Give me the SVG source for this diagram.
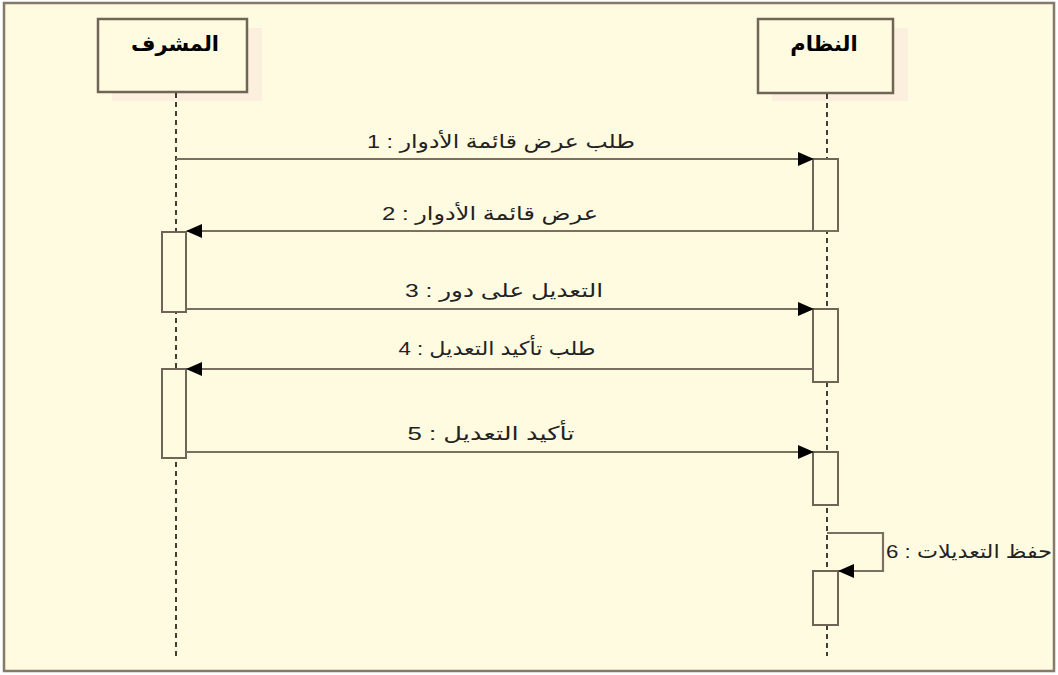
<svg xmlns="http://www.w3.org/2000/svg" width="1058" height="675" viewBox="0 0 1058 675">
<defs>
<style>
.frame{fill:#fffbe1;stroke:#85796a;stroke-width:2.5}
.shadow{fill:#fbecdc;opacity:0.8}
.head{fill:#fffbe1;stroke:#6f6455;stroke-width:2.5}
.title{font-family:"DejaVu Sans","Liberation Sans",sans-serif;font-size:21px;font-weight:bold;fill:#000;text-anchor:middle}
.life{stroke:#000;stroke-width:1.5;stroke-dasharray:5 4;fill:none}
.act{fill:#fffbe1;stroke:#6f6455;stroke-width:2}
.msg{stroke:#7a6f60;stroke-width:2.2;fill:none}
.lbl{font-family:"Liberation Sans","DejaVu Sans",sans-serif;font-size:19px;fill:#222;text-anchor:middle}
</style>
<marker id="arr" markerWidth="16" markerHeight="14" refX="15" refY="7" orient="auto" markerUnits="userSpaceOnUse">
<path d="M0,0 L16,7 L0,14 Z" fill="#000"/>
</marker>
</defs>
<rect class="frame" x="4" y="3" width="1050" height="668"/>

<g id="node-supervisor">
<rect class="shadow" x="112" y="28" width="150" height="73"/>
<rect class="head" x="98" y="19" width="149" height="73"/>
<text class="title" x="175" y="51">المشرف</text>
<line class="life" x1="176" y1="93" x2="176" y2="656"/>
<rect class="act" x="162" y="232" width="24" height="80"/>
<rect class="act" x="162" y="369" width="24" height="89"/>
</g>

<g id="node-system">
<rect class="shadow" x="772" y="28" width="136" height="73"/>
<rect class="head" x="758" y="19" width="135" height="74"/>
<text class="title" x="824" y="51">النظام</text>
<line class="life" x1="827" y1="94" x2="827" y2="656"/>
<rect class="act" x="813" y="159" width="25" height="72"/>
<rect class="act" x="813" y="309" width="25" height="73"/>
<rect class="act" x="813" y="452" width="25" height="53"/>
<rect class="act" x="813" y="571" width="25" height="54"/>
</g>

<g id="connectors">
<line class="msg" x1="176" y1="159" x2="813" y2="159" marker-end="url(#arr)"/>
<line class="msg" x1="838" y1="231" x2="187" y2="231" marker-end="url(#arr)"/>
<line class="msg" x1="186" y1="309" x2="813" y2="309" marker-end="url(#arr)"/>
<line class="msg" x1="813" y1="369" x2="187" y2="369" marker-end="url(#arr)"/>
<line class="msg" x1="186" y1="452" x2="813" y2="452" marker-end="url(#arr)"/>
<polyline class="msg" points="827,533 883,533 883,571 839,571" marker-end="url(#arr)"/>
</g>

<g id="labels">
<text class="lbl" x="501" y="148" direction="rtl" textLength="268" lengthAdjust="spacingAndGlyphs">طلب عرض قائمة الأدوار : 1</text>
<text class="lbl" x="490" y="220" direction="rtl" textLength="216" lengthAdjust="spacingAndGlyphs">عرض قائمة الأدوار : 2</text>
<text class="lbl" x="504" y="297" direction="rtl" textLength="198" lengthAdjust="spacingAndGlyphs">التعديل على دور : 3</text>
<text class="lbl" x="497" y="355" direction="rtl" textLength="197" lengthAdjust="spacingAndGlyphs">طلب تأكيد التعديل : 4</text>
<text class="lbl" x="491" y="440" direction="rtl" textLength="167" lengthAdjust="spacingAndGlyphs">تأكيد التعديل : 5</text>
<text class="lbl" x="969" y="558" direction="rtl" textLength="166" lengthAdjust="spacingAndGlyphs">حفظ التعديلات : 6</text>
</g>
</svg>
